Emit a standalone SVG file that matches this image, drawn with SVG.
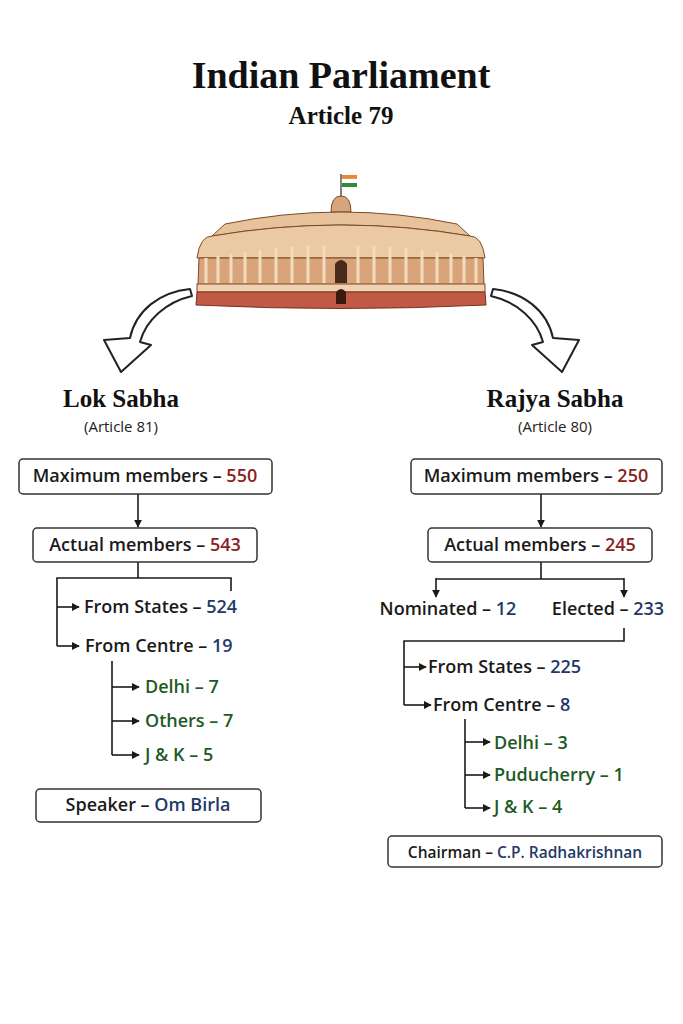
<svg xmlns="http://www.w3.org/2000/svg" width="683" height="1024" viewBox="0 0 683 1024">
<defs>
<style>
.t{font-family:"Open Sans","Liberation Sans",sans-serif;font-weight:600;font-size:18px;fill:#1a1a1a}
.s{font-family:"Liberation Serif","DejaVu Serif",serif;font-weight:bold;fill:#111}
.r{fill:#8b1f1f}.b{fill:#1f3a68}.g{fill:#1e5a26}
.box{fill:#fff;stroke:#333;stroke-width:1.5}
.ln{fill:none;stroke:#1a1a1a;stroke-width:1.6}
.ar{fill:none;stroke:#1a1a1a;stroke-width:1.6;marker-end:url(#ah)}
.big{fill:#fff;stroke:#222;stroke-width:2;stroke-linejoin:round}
</style>
<marker id="ah" viewBox="0 0 10 10" refX="9" refY="5" markerWidth="5" markerHeight="5" orient="auto"><path d="M0,0L10,5L0,10Z" fill="#1a1a1a"/></marker>
</defs>
<rect width="683" height="1024" fill="#fff"/>
<g id="title">
<text class="s" x="341" y="88" font-size="38" text-anchor="middle">Indian Parliament</text>
<text class="s" x="341" y="124" font-size="25" text-anchor="middle">Article 79</text>
</g>
<g id="parliament">
<line x1="341" y1="174" x2="341" y2="200" stroke="#555" stroke-width="1.5"/>
<rect x="342" y="175" width="15" height="4" fill="#e8893a"/><rect x="342" y="179" width="15" height="4" fill="#fff" stroke="#eee" stroke-width="0.3"/><rect x="342" y="183" width="15" height="4" fill="#2f8a3a"/>
<path d="M331,212 Q331,196 341,196 Q351,196 351,212Z" fill="#d8a57a" stroke="#7a4a2a"/>
<path d="M225,224 Q341,200 457,224 L470,236 Q341,214 212,236Z" fill="#e7c29a" stroke="#7a4a2a"/>
<path d="M197,258 Q200,236 212,236 Q341,214 470,236 Q482,236 485,258Z" fill="#ebc9a2" stroke="#7a4a2a"/>
<path d="M199,258 L483,258 L484,285 L198,285Z" fill="#d9a47a" stroke="#7a4a2a"/>
<g stroke="#f2dcc0" stroke-width="3">
<line x1="206" y1="258" x2="206" y2="283"/><line x1="218" y1="256" x2="218" y2="283"/><line x1="231" y1="254" x2="231" y2="283"/><line x1="245" y1="252" x2="245" y2="283"/><line x1="260" y1="250" x2="260" y2="283"/><line x1="276" y1="248" x2="276" y2="283"/><line x1="292" y1="247" x2="292" y2="283"/><line x1="308" y1="246" x2="308" y2="283"/><line x1="324" y1="246" x2="324" y2="283"/><line x1="358" y1="246" x2="358" y2="283"/><line x1="374" y1="246" x2="374" y2="283"/><line x1="390" y1="247" x2="390" y2="283"/><line x1="406" y1="248" x2="406" y2="283"/><line x1="422" y1="250" x2="422" y2="283"/><line x1="437" y1="252" x2="437" y2="283"/><line x1="451" y1="254" x2="451" y2="283"/><line x1="464" y1="256" x2="464" y2="283"/><line x1="476" y1="258" x2="476" y2="283"/>
</g>
<path d="M335,283 L335,264 Q341,256 347,264 L347,283Z" fill="#4a2a1a"/>
<rect x="197" y="284" width="288" height="8" fill="#efd3b0" stroke="#7a4a2a"/>
<path d="M197,292 L485,292 L486,305 Q341,312 196,305Z" fill="#c05a44" stroke="#7a3020"/>
<path d="M336,304 L336,292 Q341,286 346,292 L346,304Z" fill="#3a1a10"/>
</g>
<g id="connectors">
<path class="big" d="M190,289 C160,292 136,310 130,338 L104,340 L121,372 L151,345 L140,342 C146,320 166,302 192,296Z"/>
<path class="big" transform="translate(683,0) scale(-1,1)" d="M190,289 C160,292 136,310 130,338 L104,340 L121,372 L151,345 L140,342 C146,320 166,302 192,296Z"/>
<line class="ar" x1="138" y1="494" x2="138" y2="527"/>
<path class="ln" d="M138,562V578H57V646M138,578H231V591"/>
<line class="ar" x1="57" y1="607" x2="79" y2="607"/>
<line class="ar" x1="57" y1="646" x2="79" y2="646"/>
<path class="ln" d="M112,661V755"/>
<line class="ar" x1="112" y1="687" x2="139" y2="687"/>
<line class="ar" x1="112" y1="721" x2="139" y2="721"/>
<line class="ar" x1="112" y1="755" x2="139" y2="755"/>
<line class="ar" x1="541" y1="494" x2="541" y2="527"/>
<path class="ln" d="M541,562V579H436M541,579H624"/>
<line class="ar" x1="436" y1="578" x2="436" y2="597"/>
<line class="ar" x1="624" y1="578" x2="624" y2="597"/>
<path class="ln" d="M624,628V641H404V705"/>
<line class="ar" x1="404" y1="667" x2="426" y2="667"/>
<line class="ar" x1="404" y1="705" x2="431" y2="705"/>
<path class="ln" d="M465,719V808"/>
<line class="ar" x1="465" y1="742" x2="490" y2="742"/>
<line class="ar" x1="465" y1="775" x2="490" y2="775"/>
<line class="ar" x1="465" y1="808" x2="490" y2="808"/>
</g>
<g id="lok">
<text class="s" x="121" y="407" font-size="25" text-anchor="middle">Lok Sabha</text>
<text x="121" y="432" font-size="15" text-anchor="middle" font-family="Open Sans,Liberation Sans,sans-serif" fill="#222">(Article 81)</text>
</g>
<g id="lok-max"><rect class="box" x="19" y="459" width="253" height="35" rx="4"/><text class="t" x="145" y="482" text-anchor="middle">Maximum members – <tspan class="r">550</tspan></text></g>
<g id="lok-actual"><rect class="box" x="33" y="528" width="224" height="34" rx="4"/><text class="t" x="145" y="551" text-anchor="middle">Actual members – <tspan class="r">543</tspan></text></g>
<g id="lok-states"><text class="t" x="84" y="613">From States – <tspan class="b">524</tspan></text></g>
<g id="lok-centre"><text class="t" x="85" y="652">From Centre – <tspan class="b">19</tspan></text></g>
<g id="lok-delhi"><text class="t g" x="145" y="693">Delhi – 7</text></g>
<g id="lok-others"><text class="t g" x="145" y="727">Others – 7</text></g>
<g id="lok-jk"><text class="t g" x="145" y="761">J &amp; K – 5</text></g>
<g id="speaker"><rect class="box" x="36" y="789" width="225" height="33" rx="4"/><text class="t" x="148" y="811" text-anchor="middle">Speaker – <tspan class="b">Om Birla</tspan></text></g>
<g id="rajya">
<text class="s" x="555" y="407" font-size="25" text-anchor="middle">Rajya Sabha</text>
<text x="555" y="432" font-size="15" text-anchor="middle" font-family="Open Sans,Liberation Sans,sans-serif" fill="#222">(Article 80)</text>
</g>
<g id="rs-max"><rect class="box" x="411" y="459" width="251" height="35" rx="4"/><text class="t" x="536" y="482" text-anchor="middle">Maximum members – <tspan class="r">250</tspan></text></g>
<g id="rs-actual"><rect class="box" x="428" y="528" width="224" height="34" rx="4"/><text class="t" x="540" y="551" text-anchor="middle">Actual members – <tspan class="r">245</tspan></text></g>
<g id="rs-nom"><text class="t" x="448" y="615" text-anchor="middle">Nominated – <tspan class="b">12</tspan></text></g>
<g id="rs-el"><text class="t" x="608" y="615" text-anchor="middle">Elected – <tspan class="b">233</tspan></text></g>
<g id="rs-states"><text class="t" x="428" y="673">From States – <tspan class="b">225</tspan></text></g>
<g id="rs-centre"><text class="t" x="433" y="711">From Centre – <tspan class="b">8</tspan></text></g>
<g id="rs-delhi"><text class="t g" x="494" y="749">Delhi – 3</text></g>
<g id="rs-pud"><text class="t g" x="494" y="781">Puducherry – 1</text></g>
<g id="rs-jk"><text class="t g" x="494" y="813">J &amp; K – 4</text></g>
<g id="chairman"><rect class="box" x="388" y="836" width="274" height="31" rx="4"/><text class="t" x="525" y="858" text-anchor="middle" style="font-size:15.5px">Chairman – <tspan class="b">C.P. Radhakrishnan</tspan></text></g>
</svg>
